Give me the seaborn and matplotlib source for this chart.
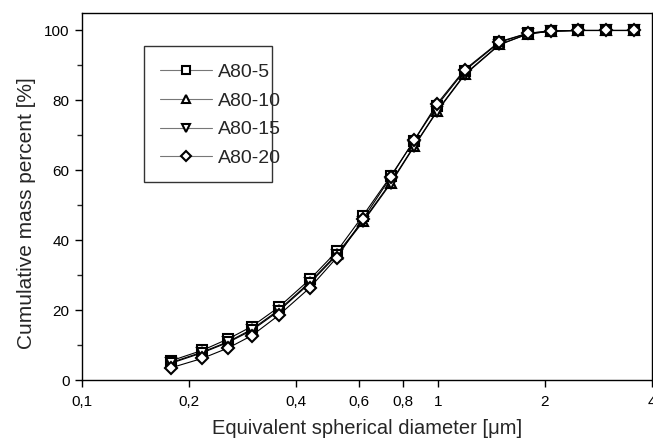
import numpy as np
import pandas as pd
import matplotlib
matplotlib.use("Agg")
import matplotlib.pyplot as plt
from matplotlib.patches import Rectangle
from matplotlib.ticker import FixedLocator, FixedFormatter, MultipleLocator, NullLocator
import seaborn as sns

# ---- data ----
diameter = [0.178, 0.218, 0.258, 0.300, 0.357, 0.437, 0.520, 0.616, 0.737,
            0.858, 0.995, 1.19, 1.49, 1.79, 2.08, 2.47, 2.97, 3.56]
a80_5 = [5.5, 8.5, 11.8, 15.3, 20.8, 28.8, 36.8, 47.0, 58.3, 68.5, 78.5, 88.5,
         96.6, 99.2, 99.8, 100, 100, 100]
a80_10 = [5.0, 8.0, 11.0, 14.5, 20.0, 28.0, 36.0, 45.5, 56.5, 67.0, 77.0, 87.5,
          96.0, 99.0, 99.8, 100, 100, 100]
a80_15 = [4.8, 7.8, 10.8, 14.2, 19.7, 27.7, 35.7, 45.2, 56.2, 66.8, 76.8, 87.3,
          95.9, 99.0, 99.8, 100, 100, 100]
a80_20 = [3.5, 6.2, 9.2, 12.7, 18.5, 26.4, 35.0, 46.0, 58.0, 68.6, 79.0, 88.8,
          96.8, 99.2, 99.9, 100, 100, 100]
series_names = ["A80-5", "A80-10", "A80-15", "A80-20"]
series_values = [a80_5, a80_10, a80_15, a80_20]
markers = ["s", "^", "v", "D"]

xtick_values = [0.1, 0.2, 0.4, 0.6, 0.8, 1, 2, 4]
xtick_labels = ["0,1", "0,2", "0,4", "0,6", "0,8", "1", "2", "4"]

sns.set_style("ticks")
plt.rcParams["font.family"] = ["Liberation Sans", "DejaVu Sans"]

W, H = 653, 440
AX_L, AX_R, AX_T, AX_B = 82, 652, 13, 380
fig = plt.figure(figsize=(W / 100, H / 100), dpi=100)
ax = fig.add_axes([AX_L / W, 1 - AX_B / H, (AX_R - AX_L) / W, (AX_B - AX_T) / H])

def ax_x(px):
    return (px - AX_L) / (AX_R - AX_L)

def ax_y(py):
    return (AX_B - py) / (AX_B - AX_T)

for name, vals, m in zip(series_names, series_values, markers):
    df = pd.DataFrame({"d": diameter, "v": vals})
    ms = 6.2 if m == "D" else 7.0
    sns.lineplot(data=df, x="d", y="v", ax=ax, color="black", lw=0.8,
                 marker=m, markersize=ms, markerfacecolor="white",
                 markeredgecolor="black", markeredgewidth=1.5, label=name)

ax.set_xscale("log")
ax.set_xlim(0.1, 4)
ax.set_ylim(0, 105)
ax.xaxis.set_major_locator(FixedLocator(xtick_values))
ax.xaxis.set_major_formatter(FixedFormatter(xtick_labels))
ax.xaxis.set_minor_locator(NullLocator())
ax.yaxis.set_major_locator(MultipleLocator(20))
ax.yaxis.set_minor_locator(MultipleLocator(10))
ax.tick_params(axis="both", which="major", direction="out", length=5, width=1,
               labelsize=11, colors="black", pad=4)
ax.tick_params(axis="x", which="major", pad=6)
ax.tick_params(axis="y", which="minor", direction="out", length=3.5, width=1)
for s in ax.spines.values():
    s.set_linewidth(1.0)
    s.set_color("black")

ax.set_xlabel("Equivalent spherical diameter [\u03bcm]", fontsize=14.5, labelpad=7)
ax.set_ylabel("Cumulative mass percent [%]", fontsize=15)
ax.yaxis.set_label_coords(ax_x(36), ax_y(213))

# legend (frame drawn separately)
leg = ax.legend(loc="upper left", bbox_to_anchor=(ax_x(160), ax_y(63.0)),
                borderaxespad=0, borderpad=0, frameon=False,
                fontsize=14, handlelength=2.67, labelspacing=0.58,
                handletextpad=0.31, markerscale=0.85)
for line in leg.get_lines():
    line.set_color("#777777")
    line.set_markeredgecolor("black")
ax.add_patch(Rectangle((ax_x(144), ax_y(181.7)), ax_x(272) - ax_x(144),
                       ax_y(45.7) - ax_y(181.7), transform=ax.transAxes,
                       fill=False, edgecolor="#333333", lw=1.0, zorder=5))

fig.savefig("out.png", dpi=100)
